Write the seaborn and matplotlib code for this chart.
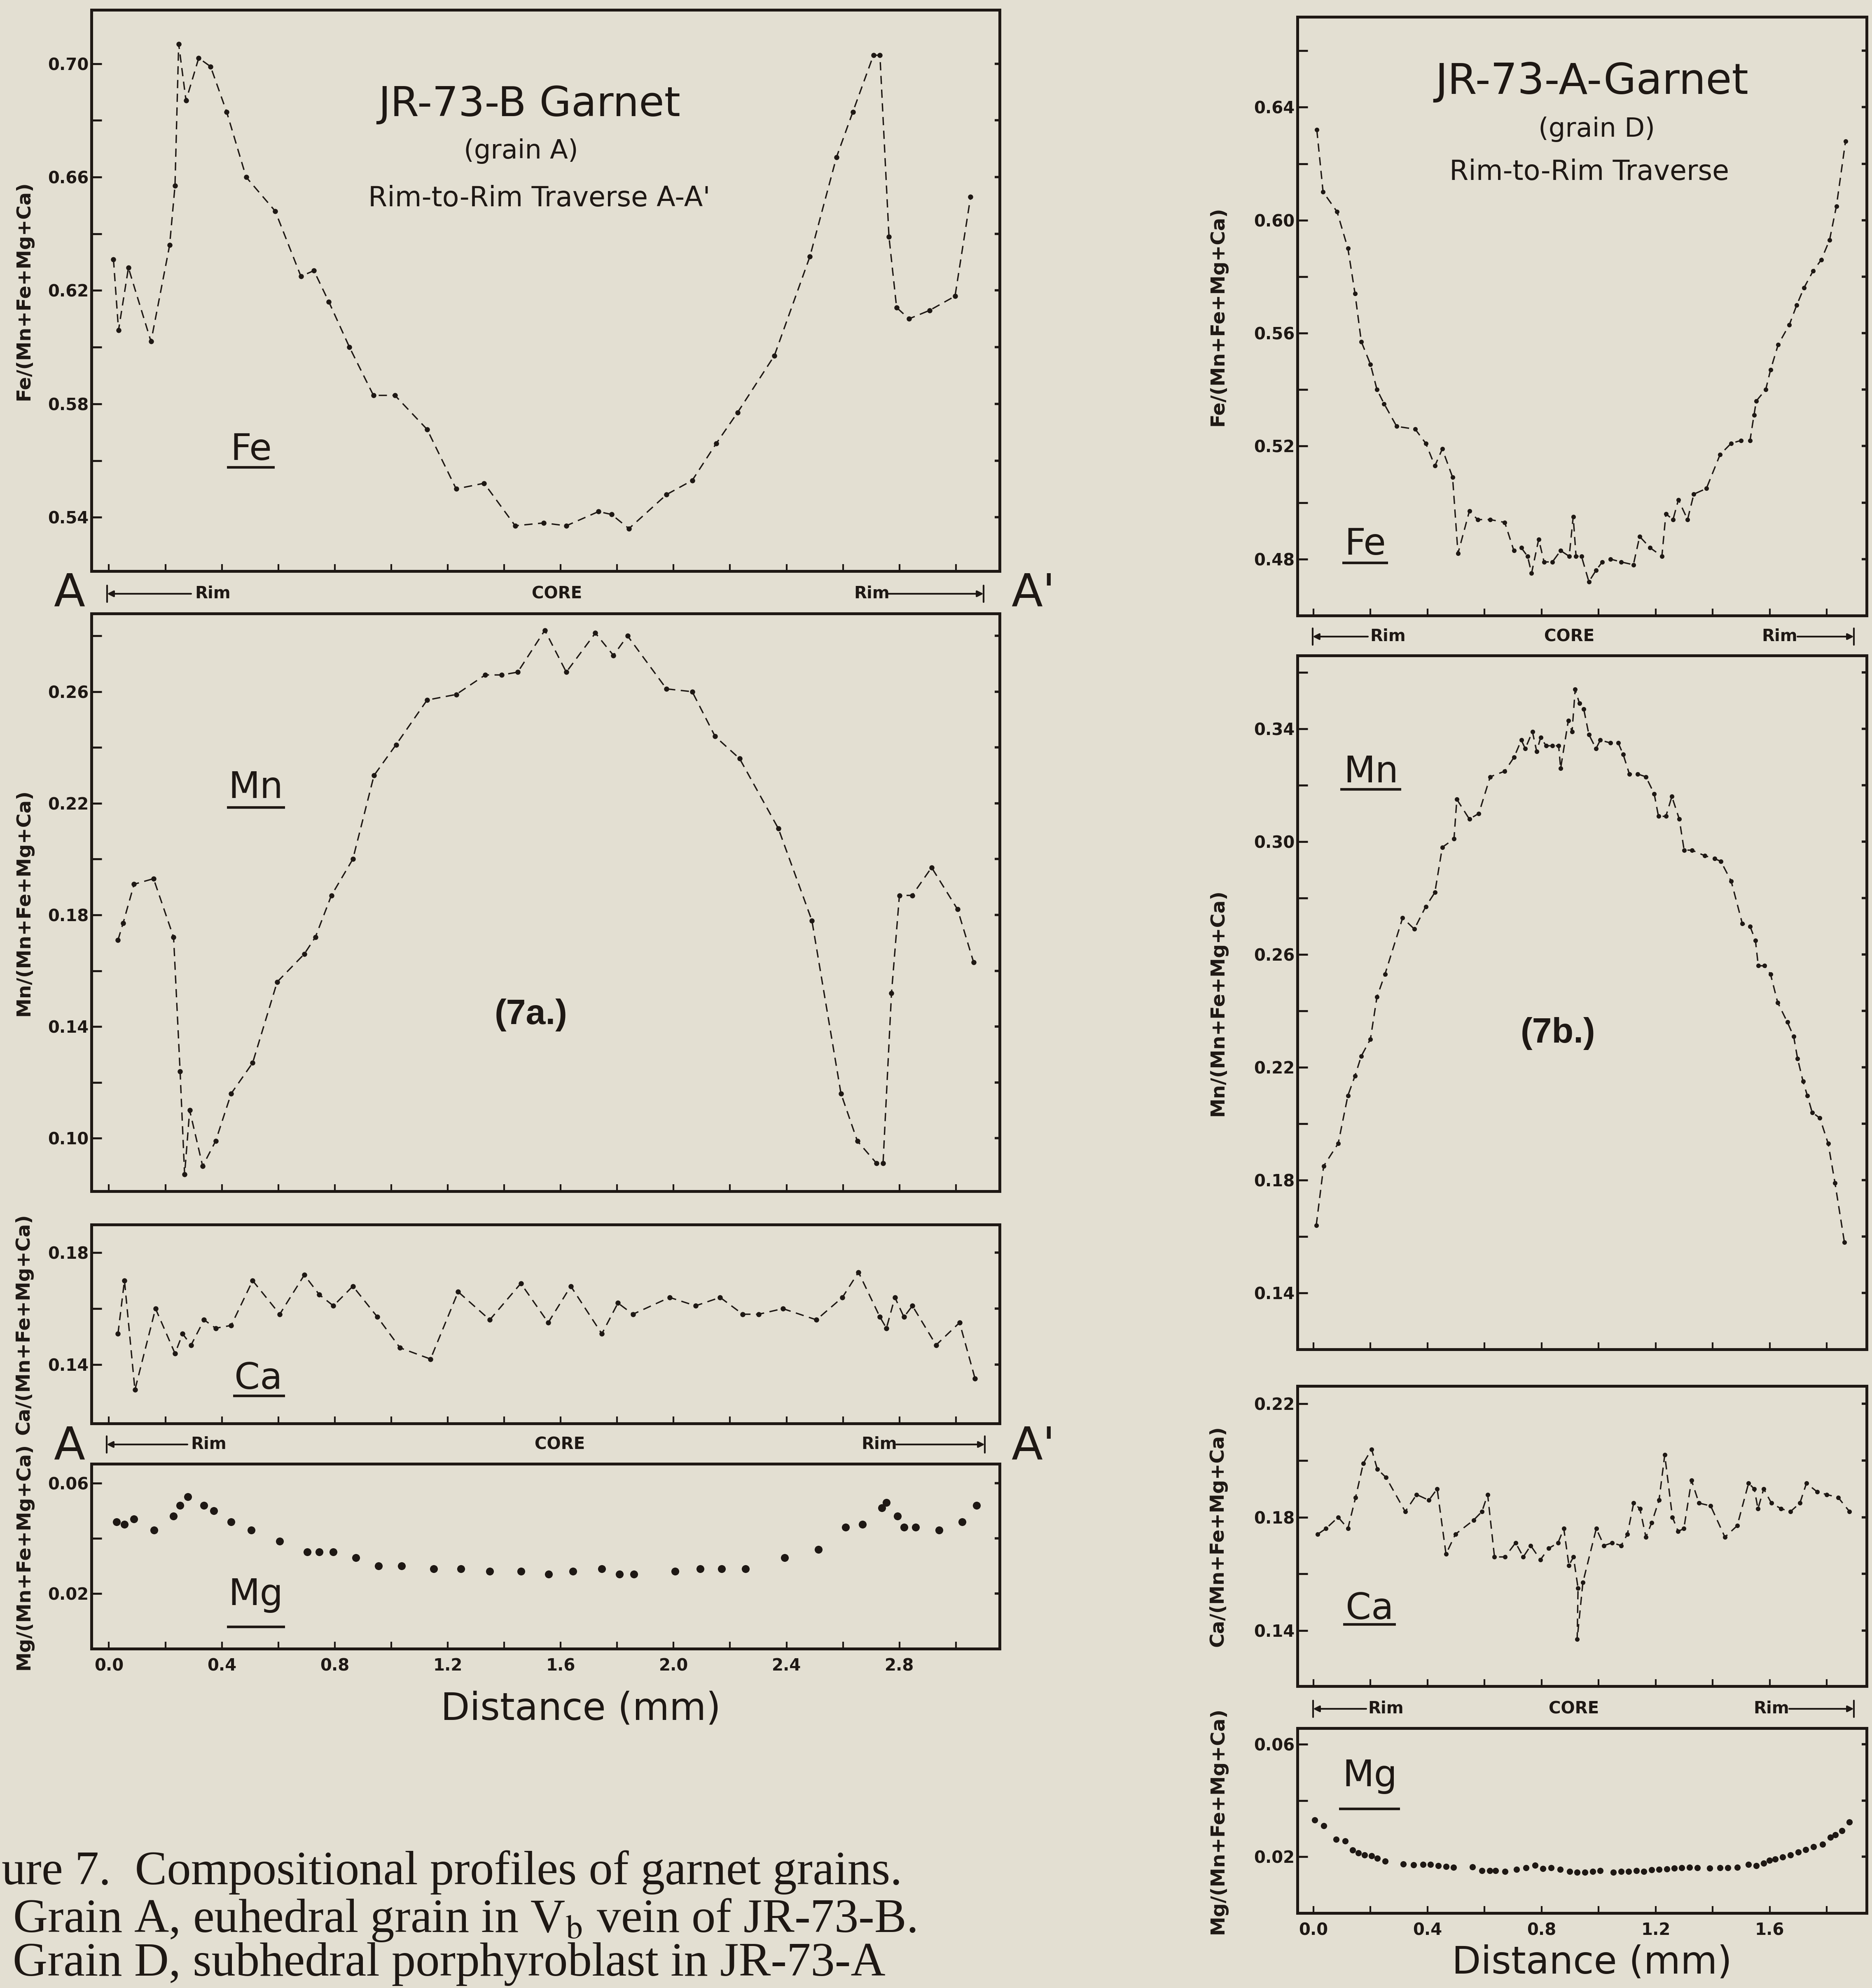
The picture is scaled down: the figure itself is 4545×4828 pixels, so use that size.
import matplotlib
matplotlib.use("Agg")
import matplotlib.pyplot as plt
from matplotlib.lines import Line2D
from matplotlib.patches import FancyArrowPatch
from matplotlib.ticker import FixedLocator, FormatStrFormatter
import seaborn as sns

# ---------------- grain A, JR-73-B (traverse A-A') ----------------
a_fe_x = [0.016, 0.034, 0.069, 0.149, 0.215, 0.234, 0.247, 0.273, 0.318, 0.360,
          0.417, 0.486, 0.589, 0.680, 0.726, 0.779, 0.852, 0.937, 1.013, 1.127,
          1.230, 1.329, 1.439, 1.540, 1.620, 1.734, 1.780, 1.842, 1.975, 2.066,
          2.151, 2.227, 2.357, 2.483, 2.577, 2.635, 2.708, 2.731, 2.763, 2.790,
          2.834, 2.907, 2.997, 3.052]
a_fe_y = [0.631, 0.606, 0.628, 0.602, 0.636, 0.657, 0.707, 0.687, 0.702, 0.699,
          0.683, 0.660, 0.648, 0.625, 0.627, 0.616, 0.600, 0.583, 0.583, 0.571,
          0.550, 0.552, 0.537, 0.538, 0.537, 0.542, 0.541, 0.536, 0.548, 0.553,
          0.566, 0.577, 0.597, 0.632, 0.667, 0.683, 0.703, 0.703, 0.639, 0.614,
          0.610, 0.613, 0.618, 0.653]

a_mn_x = [0.032, 0.050, 0.089, 0.158, 0.229, 0.252, 0.268, 0.286, 0.332, 0.378,
          0.433, 0.509, 0.596, 0.692, 0.731, 0.788, 0.864, 0.939, 1.017, 1.127,
          1.230, 1.333, 1.391, 1.448, 1.544, 1.620, 1.723, 1.787, 1.837, 1.975,
          2.066, 2.147, 2.234, 2.371, 2.490, 2.593, 2.651, 2.719, 2.742, 2.772,
          2.800, 2.845, 2.914, 3.006, 3.063]
a_mn_y = [0.171, 0.177, 0.191, 0.193, 0.172, 0.124, 0.087, 0.110, 0.090, 0.099,
          0.116, 0.127, 0.156, 0.166, 0.172, 0.187, 0.200, 0.230, 0.241, 0.257,
          0.259, 0.266, 0.266, 0.267, 0.282, 0.267, 0.281, 0.273, 0.280, 0.261,
          0.260, 0.244, 0.236, 0.211, 0.178, 0.116, 0.099, 0.091, 0.091, 0.152,
          0.187, 0.187, 0.197, 0.182, 0.163]

a_ca_x = [0.032, 0.055, 0.092, 0.165, 0.234, 0.261, 0.291, 0.337, 0.378, 0.433,
          0.509, 0.605, 0.692, 0.745, 0.795, 0.864, 0.951, 1.031, 1.139, 1.237,
          1.349, 1.459, 1.556, 1.636, 1.746, 1.803, 1.856, 1.986, 2.078, 2.165,
          2.245, 2.302, 2.387, 2.506, 2.598, 2.655, 2.731, 2.754, 2.784, 2.816,
          2.846, 2.930, 3.013, 3.068]
a_ca_y = [0.151, 0.170, 0.131, 0.160, 0.144, 0.151, 0.147, 0.156, 0.153, 0.154,
          0.170, 0.158, 0.172, 0.165, 0.161, 0.168, 0.157, 0.146, 0.142, 0.166,
          0.156, 0.169, 0.155, 0.168, 0.151, 0.162, 0.158, 0.164, 0.161, 0.164,
          0.158, 0.158, 0.160, 0.156, 0.164, 0.173, 0.157, 0.153, 0.164, 0.157,
          0.161, 0.147, 0.155, 0.135]

a_mg_x = [0.027, 0.055, 0.089, 0.160, 0.229, 0.252, 0.279, 0.337, 0.371, 0.433,
          0.504, 0.605, 0.703, 0.745, 0.795, 0.875, 0.955, 1.036, 1.150, 1.246,
          1.349, 1.459, 1.558, 1.643, 1.746, 1.808, 1.860, 2.005, 2.094, 2.170,
          2.255, 2.394, 2.513, 2.609, 2.669, 2.738, 2.754, 2.793, 2.816, 2.857,
          2.941, 3.022, 3.074]
a_mg_y = [0.046, 0.045, 0.047, 0.043, 0.048, 0.052, 0.055, 0.052, 0.050, 0.046,
          0.043, 0.039, 0.035, 0.035, 0.035, 0.033, 0.030, 0.030, 0.029, 0.029,
          0.028, 0.028, 0.027, 0.028, 0.029, 0.027, 0.027, 0.028, 0.029, 0.029,
          0.029, 0.033, 0.036, 0.044, 0.045, 0.051, 0.053, 0.048, 0.044, 0.044,
          0.043, 0.046, 0.052]

# ---------------- grain D, JR-73-A ----------------
d_fe_x = [0.012, 0.034, 0.083, 0.121, 0.146, 0.168, 0.200, 0.223, 0.248, 0.292,
          0.357, 0.394, 0.426, 0.452, 0.488, 0.507, 0.547, 0.576, 0.620, 0.671,
          0.703, 0.729, 0.751, 0.765, 0.790, 0.809, 0.838, 0.867, 0.897, 0.911,
          0.921, 0.940, 0.966, 0.991, 1.013, 1.042, 1.079, 1.122, 1.144, 1.181,
          1.222, 1.236, 1.261, 1.280, 1.312, 1.334, 1.378, 1.426, 1.465, 1.499,
          1.531, 1.545, 1.553, 1.586, 1.603, 1.630, 1.669, 1.695, 1.720, 1.752,
          1.781, 1.810, 1.834, 1.866]
d_fe_y = [0.632, 0.610, 0.603, 0.590, 0.574, 0.557, 0.549, 0.540, 0.535, 0.527,
          0.526, 0.521, 0.513, 0.519, 0.509, 0.482, 0.497, 0.494, 0.494, 0.493,
          0.483, 0.484, 0.481, 0.475, 0.487, 0.479, 0.479, 0.483, 0.481, 0.495,
          0.481, 0.481, 0.472, 0.476, 0.479, 0.480, 0.479, 0.478, 0.488, 0.484,
          0.481, 0.496, 0.494, 0.501, 0.494, 0.503, 0.505, 0.517, 0.521, 0.522,
          0.522, 0.531, 0.536, 0.540, 0.547, 0.556, 0.563, 0.570, 0.576, 0.582,
          0.586, 0.593, 0.605, 0.628]

d_mn_x = [0.010, 0.036, 0.087, 0.121, 0.146, 0.168, 0.200, 0.223, 0.251, 0.313,
          0.354, 0.394, 0.426, 0.452, 0.493, 0.503, 0.547, 0.580, 0.620, 0.671,
          0.704, 0.729, 0.743, 0.768, 0.783, 0.797, 0.816, 0.838, 0.860, 0.867,
          0.894, 0.907, 0.918, 0.933, 0.948, 0.966, 0.991, 1.006, 1.042, 1.069,
          1.086, 1.108, 1.137, 1.166, 1.195, 1.210, 1.236, 1.257, 1.283, 1.300,
          1.327, 1.373, 1.407, 1.429, 1.465, 1.504, 1.531, 1.550, 1.560, 1.582,
          1.603, 1.628, 1.662, 1.684, 1.698, 1.717, 1.732, 1.749, 1.776, 1.805,
          1.829, 1.862]
d_mn_y = [0.164, 0.185, 0.193, 0.210, 0.217, 0.224, 0.230, 0.245, 0.253, 0.273,
          0.269, 0.277, 0.282, 0.298, 0.301, 0.315, 0.308, 0.310, 0.323, 0.325,
          0.330, 0.336, 0.333, 0.339, 0.332, 0.337, 0.334, 0.334, 0.334, 0.326,
          0.343, 0.339, 0.354, 0.349, 0.347, 0.338, 0.333, 0.336, 0.335, 0.335,
          0.331, 0.324, 0.324, 0.323, 0.317, 0.309, 0.309, 0.316, 0.308, 0.297,
          0.297, 0.295, 0.294, 0.293, 0.286, 0.271, 0.270, 0.265, 0.256, 0.256,
          0.253, 0.243, 0.236, 0.231, 0.223, 0.215, 0.210, 0.204, 0.202, 0.193,
          0.179, 0.158]

d_ca_x = [0.015, 0.044, 0.087, 0.121, 0.148, 0.175, 0.204, 0.224, 0.255, 0.322,
          0.362, 0.405, 0.434, 0.465, 0.498, 0.562, 0.591, 0.611, 0.635, 0.672,
          0.709, 0.736, 0.762, 0.796, 0.825, 0.858, 0.878, 0.896, 0.912, 0.928,
          0.925, 0.945, 0.992, 1.019, 1.048, 1.079, 1.101, 1.123, 1.145, 1.166,
          1.186, 1.212, 1.232, 1.259, 1.279, 1.299, 1.326, 1.352, 1.393, 1.443,
          1.486, 1.526, 1.546, 1.559, 1.579, 1.606, 1.640, 1.673, 1.706, 1.729,
          1.766, 1.800, 1.840, 1.880]
d_ca_y = [0.174, 0.176, 0.180, 0.176, 0.187, 0.199, 0.204, 0.197, 0.194, 0.182,
          0.188, 0.186, 0.190, 0.167, 0.174, 0.179, 0.182, 0.188, 0.166, 0.166,
          0.171, 0.166, 0.170, 0.165, 0.169, 0.171, 0.176, 0.163, 0.166, 0.155,
          0.137, 0.157, 0.176, 0.170, 0.171, 0.170, 0.174, 0.185, 0.183, 0.173,
          0.178, 0.186, 0.202, 0.180, 0.175, 0.176, 0.193, 0.185, 0.184, 0.173,
          0.177, 0.192, 0.190, 0.183, 0.190, 0.185, 0.183, 0.182, 0.185, 0.192,
          0.189, 0.188, 0.187, 0.182]

d_mg_x = [0.004, 0.037, 0.080, 0.111, 0.138, 0.158, 0.180, 0.204, 0.224, 0.251,
          0.315, 0.351, 0.385, 0.411, 0.438, 0.465, 0.491, 0.558, 0.591, 0.618,
          0.638, 0.672, 0.712, 0.745, 0.778, 0.805, 0.834, 0.865, 0.899, 0.925,
          0.952, 0.979, 1.005, 1.052, 1.079, 1.105, 1.132, 1.159, 1.186, 1.212,
          1.239, 1.266, 1.292, 1.319, 1.346, 1.390, 1.426, 1.453, 1.486, 1.526,
          1.553, 1.579, 1.599, 1.619, 1.646, 1.673, 1.700, 1.726, 1.753, 1.786,
          1.813, 1.830, 1.853, 1.880]
d_mg_y = [0.0330, 0.0310, 0.0262, 0.0256, 0.0224, 0.0213, 0.0206, 0.0203, 0.0195, 0.0184,
          0.0174, 0.0171, 0.0172, 0.0173, 0.0169, 0.0166, 0.0163, 0.0164, 0.0151, 0.0150,
          0.0151, 0.0148, 0.0155, 0.0161, 0.0170, 0.0158, 0.0161, 0.0155, 0.0148, 0.0145,
          0.0145, 0.0148, 0.0151, 0.0145, 0.0148, 0.0148, 0.0151, 0.0148, 0.0153, 0.0155,
          0.0157, 0.0159, 0.0161, 0.0163, 0.0161, 0.0159, 0.0161, 0.0161, 0.0163, 0.0172,
          0.0168, 0.0177, 0.0187, 0.0192, 0.0199, 0.0206, 0.0216, 0.0226, 0.0236, 0.0245,
          0.0269, 0.0278, 0.0292, 0.0323]

# tick positions
a_x_major = [0.0, 0.4, 0.8, 1.2, 1.6, 2.0, 2.4, 2.8]
a_x_minor = [0.2, 0.6, 1.0, 1.4, 1.8, 2.2, 2.6, 3.0]
d_x_major = [0.0, 0.4, 0.8, 1.2, 1.6]
d_x_minor = [0.2, 0.6, 1.0, 1.4, 1.8]

sns.set_theme(style="ticks")
plt.rcParams["font.family"] = ["DejaVu Sans"]
plt.rcParams["mathtext.fontset"] = "stix"

PAPER = "#e3dfd2"
INK = "#1e1814"
W, H = 4545, 4828

fig = plt.figure(figsize=(W / 100, H / 100), dpi=100, facecolor=PAPER)


def fx(x):
    return x / W


def fy(y):
    return 1 - y / H


def box(left, top, right, bottom):
    return fig.add_axes([fx(left), fy(bottom), (right - left) / W, (bottom - top) / H])


def frame(ax, xlim, ylim, ymaj, ymin, xmaj, xmin, xlabels, ylabel, labx):
    ax.set_facecolor(PAPER)
    ax.set_xlim(*xlim)
    ax.set_ylim(*ylim)
    for s in ax.spines.values():
        s.set_visible(True)
        s.set_linewidth(5)
        s.set_color(INK)
    ax.xaxis.set_major_locator(FixedLocator(xmaj))
    ax.xaxis.set_minor_locator(FixedLocator(xmin))
    ax.yaxis.set_major_locator(FixedLocator(ymaj))
    ax.yaxis.set_minor_locator(FixedLocator(ymin))
    ax.yaxis.set_major_formatter(FormatStrFormatter("%.2f"))
    ax.xaxis.set_major_formatter(FormatStrFormatter("%.1f"))
    ax.tick_params(axis="y", which="both", direction="in", length=18, width=3.5,
                   color=INK, left=True, right=False, labelsize=29, pad=5, labelcolor=INK)
    ax.tick_params(axis="x", which="both", direction="in", length=12, width=3,
                   color=INK, bottom=True, top=False, labelsize=29, pad=16,
                   labelbottom=xlabels, labelcolor=INK)
    for lbl in ax.get_yticklabels() + ax.get_xticklabels():
        lbl.set_fontweight("bold")
    sec = ax.secondary_yaxis("right")
    sec.set_yticks(sorted(list(ymaj) + list(ymin)))
    sec.tick_params(direction="in", length=9, width=4, labelright=False, color=INK)
    sec.spines["right"].set_visible(False)
    ax.set_xlabel("")
    ax.set_ylabel(ylabel, fontsize=34, fontweight="bold", color=INK)
    ax.yaxis.set_label_coords(labx, 0.5)


def trace(ax, x, y, ms=9):
    sns.lineplot(x=x, y=y, ax=ax, estimator=None, sort=False, color=INK, lw=2.4,
                 linestyle=(0, (6, 4)), marker="o", markersize=ms,
                 markerfacecolor=INK, markeredgecolor=INK, markeredgewidth=0)


def element(ax, name, xc, base, x0, x1, yu):
    ax.text(xc, base, name, transform=ax.transAxes, ha="center", va="baseline",
            fontsize=64, color=INK)
    ax.plot([x0, x1], [yu, yu], transform=ax.transAxes, color=INK, lw=4.5,
            solid_capstyle="butt")


def rim_row(y, bar_l, arr_l, rim_l, core_x, rim_r, arr_r, bar_r):
    for bar in (bar_l, bar_r):
        fig.add_artist(Line2D([fx(bar), fx(bar)], [fy(y - 20), fy(y + 20)],
                              transform=fig.transFigure, color=INK, lw=3))
    for start, end in ((arr_l, bar_l), (arr_r, bar_r)):
        fig.add_artist(FancyArrowPatch((fx(start), fy(y)), (fx(end), fy(y)),
                                       transform=fig.transFigure, arrowstyle="-|>",
                                       mutation_scale=22, lw=3, color=INK,
                                       shrinkA=0, shrinkB=0))
    kw = dict(fontsize=29, fontweight="bold", color=INK, va="center")
    fig.text(fx(rim_l), fy(y), "Rim", ha="left", **kw)
    fig.text(fx(core_x), fy(y), "CORE", ha="center", **kw)
    fig.text(fx(rim_r), fy(y), "Rim", ha="right", **kw)


# ---------------- left column (7a) ----------------
AL, AR = 222, 2427
a_xlim = (-0.062, 3.155)

ax = box(AL, 24, AR, 1387)
trace(ax, a_fe_x, a_fe_y)
frame(ax, a_xlim, (0.521, 0.719), [0.54, 0.58, 0.62, 0.66, 0.70], [0.56, 0.60, 0.64, 0.68],
      a_x_major, a_x_minor, False, "Fe/(Mn+Fe+Mg+Ca)", -0.064)
ax.text(0.482, 0.831, "JR-73-B Garnet", transform=ax.transAxes, ha="center", va="center",
        fontsize=72, color=INK)
ax.text(0.473, 0.748, "(grain A)", transform=ax.transAxes, ha="center", va="center",
        fontsize=46, color=INK)
ax.text(0.493, 0.664, "Rim-to-Rim Traverse A-A'", transform=ax.transAxes, ha="center",
        va="center", fontsize=48, color=INK)
element(ax, "Fe", 0.176, 0.198, 0.149, 0.202, 0.185)

ax = box(AL, 1490, AR, 2893)
trace(ax, a_mn_x, a_mn_y)
frame(ax, a_xlim, (0.081, 0.288), [0.10, 0.14, 0.18, 0.22, 0.26], [0.12, 0.16, 0.20, 0.24, 0.28],
      a_x_major, a_x_minor, False, "Mn/(Mn+Fe+Mg+Ca)", -0.064)
element(ax, "Mn", 0.181, 0.681, 0.149, 0.213, 0.664)
ax.text(0.484, 0.305, "(7a.)", transform=ax.transAxes, ha="center", va="center",
        fontsize=62, fontweight="bold", family="Liberation Sans", color=INK)

ax = box(AL, 2974, AR, 3457)
trace(ax, a_ca_x, a_ca_y)
frame(ax, a_xlim, (0.119, 0.190), [0.14, 0.18], [0.16],
      a_x_major, a_x_minor, False, "Ca/(Mn+Fe+Mg+Ca)", -0.064)
element(ax, "Ca", 0.184, 0.174, 0.156, 0.213, 0.139)

ax = box(AL, 3555, AR, 4004)
sns.scatterplot(x=a_mg_x, y=a_mg_y, ax=ax, color=INK, s=190, linewidth=0)
frame(ax, a_xlim, (0.0, 0.067), [0.02, 0.06], [0.04],
      a_x_major, a_x_minor, True, "Mg/(Mn+Fe+Mg+Ca)", -0.064)
element(ax, "Mg", 0.181, 0.236, 0.149, 0.213, 0.118)

fig.text(fx(1410), fy(4150), "Distance (mm)", ha="center", va="center", fontsize=66, color=INK)

rim_row(1442, 260, 464, 473, 1352, 2160, 2156, 2388)
rim_row(3508, 259, 455, 463, 1359, 2178, 2176, 2391)
for yy in (1442, 3514):
    fig.text(fx(168), fy(yy), "A", ha="center", va="center", fontsize=80, color=INK)
    fig.text(fx(2508), fy(yy), "A'", ha="center", va="center", fontsize=80, color=INK)

# ---------------- right column (7b) ----------------
DL, DR = 3150, 4532
d_xlim = (-0.056, 1.94)

ax = box(DL, 41, DR, 1495)
trace(ax, d_fe_x, d_fe_y, ms=8)
frame(ax, d_xlim, (0.460, 0.672), [0.48, 0.52, 0.56, 0.60, 0.64], [0.50, 0.54, 0.58, 0.62, 0.66],
      d_x_major, d_x_minor, False, "Fe/(Mn+Fe+Mg+Ca)", -0.123)
ax.text(0.517, 0.891, "JR-73-A-Garnet", transform=ax.transAxes, ha="center", va="center",
        fontsize=74, color=INK)
ax.text(0.526, 0.812, "(grain D)", transform=ax.transAxes, ha="center", va="center",
        fontsize=46, color=INK)
ax.text(0.513, 0.741, "Rim-to-Rim Traverse", transform=ax.transAxes, ha="center",
        va="center", fontsize=48, color=INK)
element(ax, "Fe", 0.119, 0.102, 0.079, 0.159, 0.088)

ax = box(DL, 1592, DR, 3277)
trace(ax, d_mn_x, d_mn_y, ms=8)
frame(ax, d_xlim, (0.120, 0.366), [0.14, 0.18, 0.22, 0.26, 0.30, 0.34],
      [0.16, 0.20, 0.24, 0.28, 0.32, 0.36],
      d_x_major, d_x_minor, False, "Mn/(Mn+Fe+Mg+Ca)", -0.123)
element(ax, "Mn", 0.129, 0.817, 0.075, 0.182, 0.807)
ax.text(0.458, 0.455, "(7b.)", transform=ax.transAxes, ha="center", va="center",
        fontsize=62, fontweight="bold", family="Liberation Sans", color=INK)

ax = box(DL, 3366, DR, 4095)
trace(ax, d_ca_x, d_ca_y, ms=8)
frame(ax, d_xlim, (0.1204, 0.2263), [0.14, 0.18, 0.22], [0.16, 0.20],
      d_x_major, d_x_minor, False, "Ca/(Mn+Fe+Mg+Ca)", -0.123)
element(ax, "Ca", 0.127, 0.224, 0.080, 0.173, 0.206)

ax = box(DL, 4197, DR, 4646)
sns.scatterplot(x=d_mg_x, y=d_mg_y, ax=ax, color=INK, s=120, linewidth=0)
frame(ax, d_xlim, (0.0, 0.0657), [0.02, 0.06], [0.04],
      d_x_major, d_x_minor, True, "Mg/(Mn+Fe+Mg+Ca)", -0.123)
element(ax, "Mg", 0.127, 0.686, 0.073, 0.180, 0.563)

fig.text(fx(3865), fy(4767), "Distance (mm)", ha="center", va="center", fontsize=66, color=INK)

rim_row(1546, 3187, 3321, 3326, 3810, 4364, 4364, 4501)
rim_row(4150, 3188, 3317, 3321, 3821, 4344, 4344, 4501)

# ---------------- caption ----------------
cap = dict(family="Liberation Serif", fontsize=84, color=INK, va="baseline", ha="left")
fig.text(fx(4), fy(4576), "ure 7.  Compositional profiles of garnet grains.", **cap)
fig.text(fx(31), fy(4692), r"Grain A, euhedral grain in V$_{\mathrm{b}}$ vein of JR-73-B.", **cap)
fig.text(fx(31), fy(4798), "Grain D, subhedral porphyroblast in JR-73-A", **cap)

fig.savefig("out.png", dpi=100, facecolor=PAPER)
